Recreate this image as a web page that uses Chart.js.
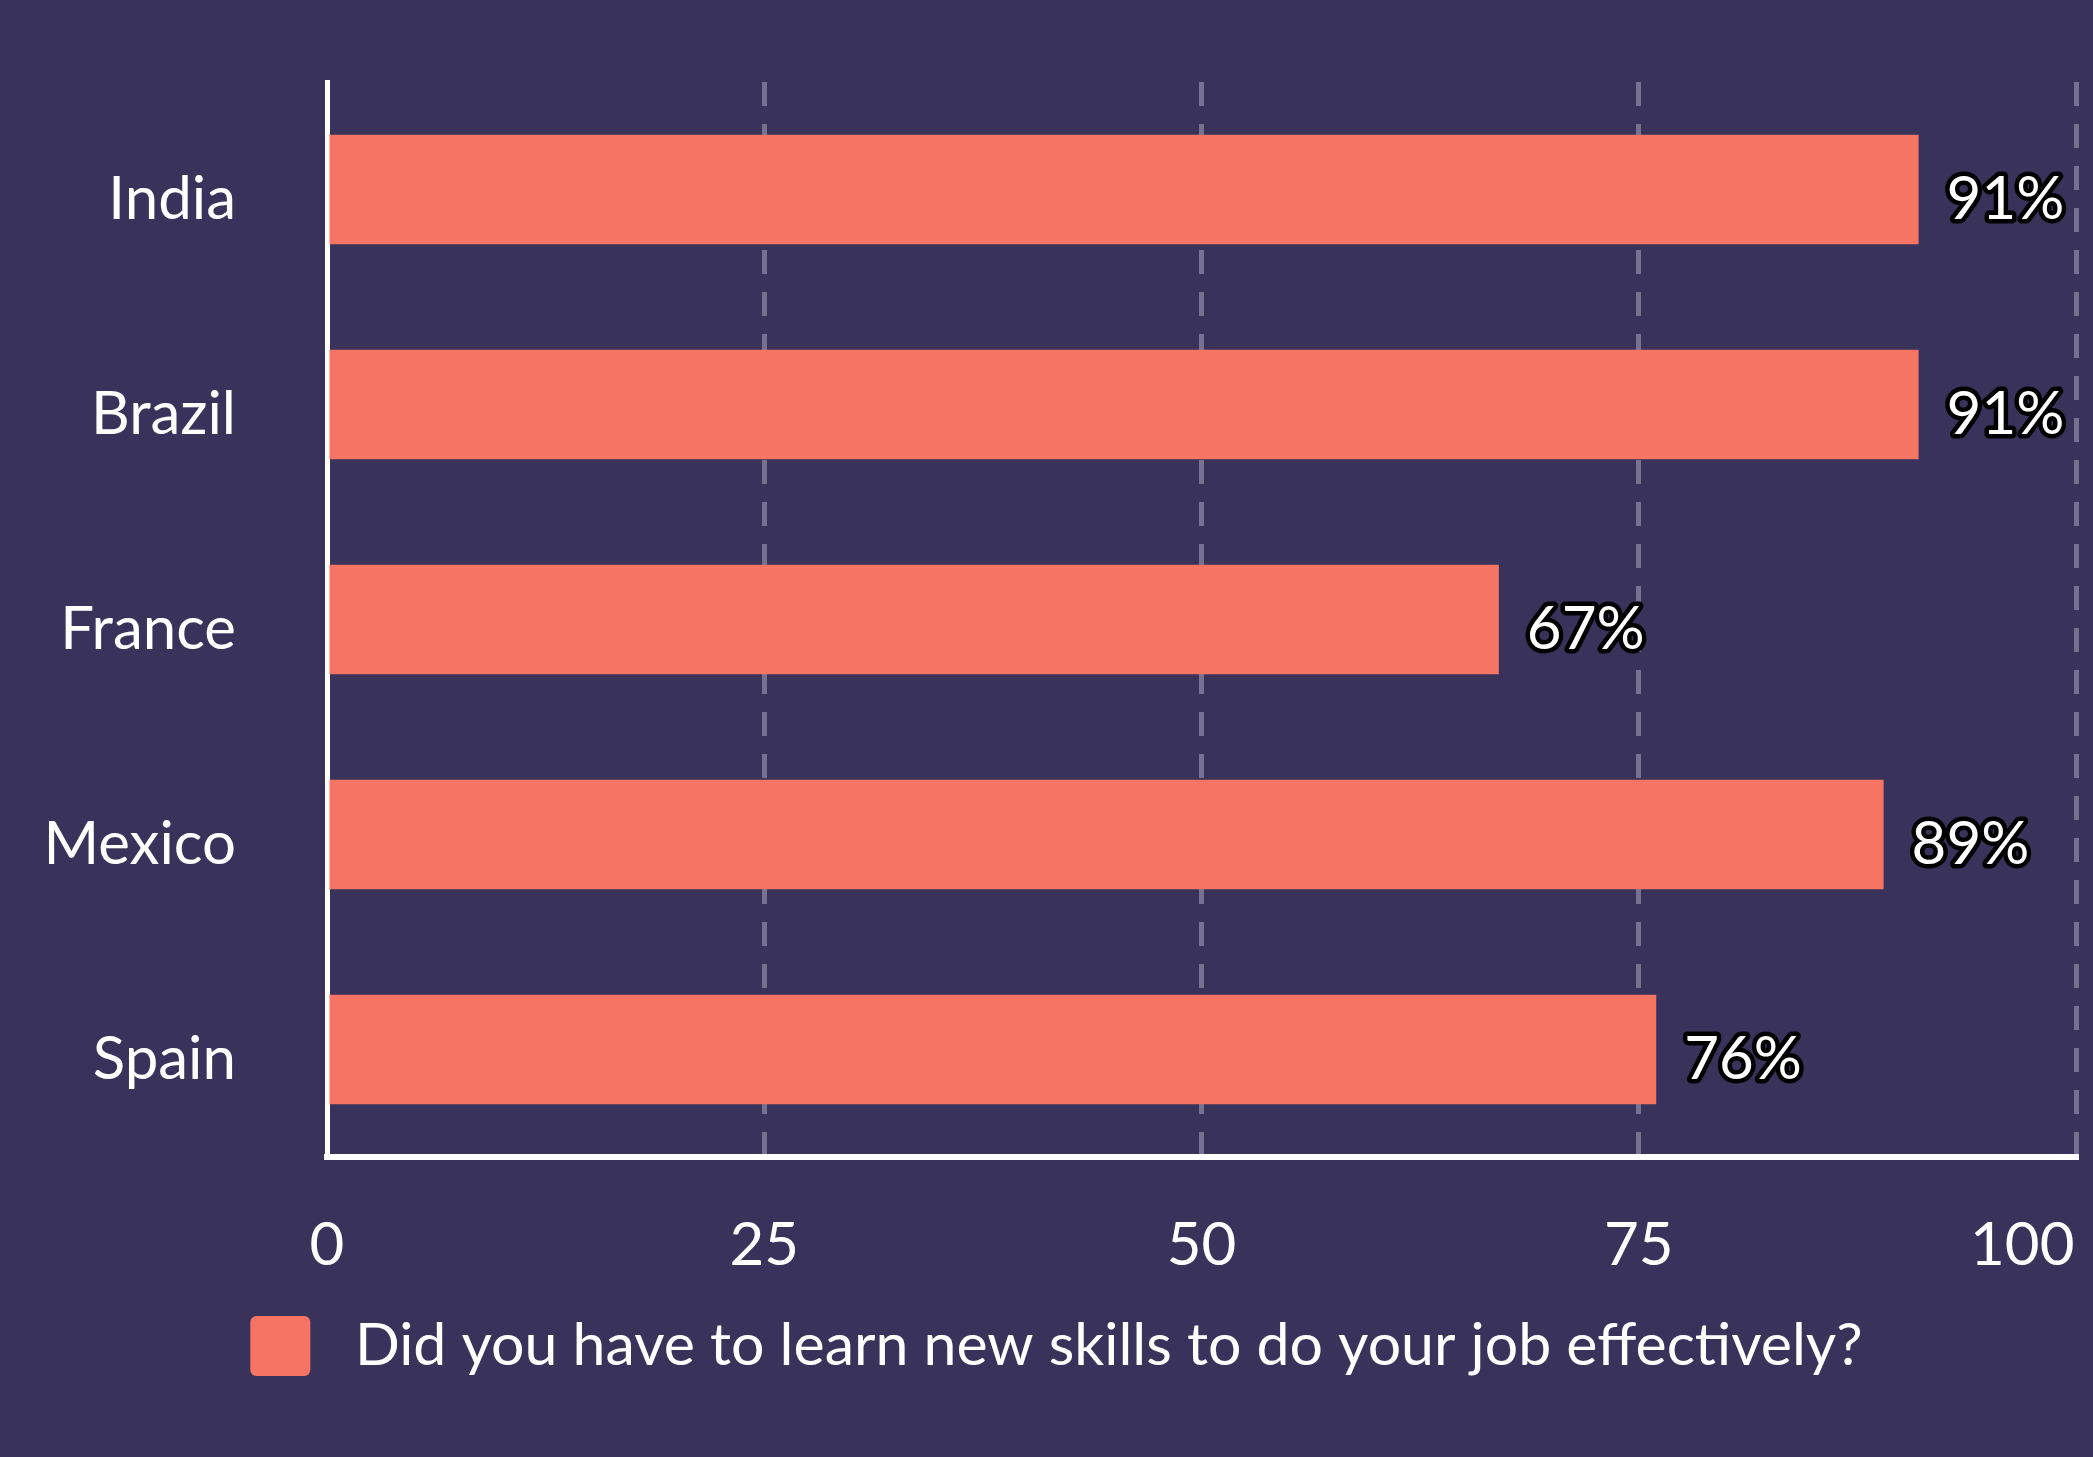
<!DOCTYPE html>
<html>
<head>
<meta charset="utf-8">
<title>Learning new skills</title>
<script src="https://cdn.jsdelivr.net/npm/chart.js@4/dist/chart.umd.min.js"></script>
<style>
  html, body { margin: 0; padding: 0; background: #39325a; }
  #wrap { width: 2093px; height: 1457px; position: relative; }
</style>
</head>
<body>
<div id="wrap"><canvas id="chart"></canvas></div>
<script>
const countries = ['India', 'Brazil', 'France', 'Mexico', 'Spain'];
const learnedNewSkills = [91, 91, 67, 89, 76];
const seriesLabel = 'Did you have to learn new skills to do your job effectively?';
const xTicks = [0, 25, 50, 75, 100];

const BAR = '#f67464';
const GRID = '#77718f';
const FONT = 'Lato';

// percentage labels at the end of each bar, white with a dark outline
const barValueLabels = {
  id: 'barValueLabels',
  afterDatasetsDraw(chart) {
    const ctx = chart.ctx;
    const meta = chart.getDatasetMeta(0);
    ctx.save();
    ctx.font = `60px ${FONT}`;
    ctx.textAlign = 'left';
    ctx.textBaseline = 'alphabetic';
    ctx.lineJoin = 'round';
    ctx.lineWidth = 9;
    ctx.strokeStyle = '#000';
    ctx.fillStyle = '#fff';
    meta.data.forEach((bar, i) => {
      const text = learnedNewSkills[i] + '%';
      const x = bar.x + 28;
      const y = bar.y + 29;
      ctx.strokeText(text, x, y);
      ctx.fillText(text, x, y);
    });
    ctx.restore();
  }
};

new Chart(document.getElementById('chart'), {
  type: 'bar',
  data: {
    labels: countries,
    datasets: [{
      label: seriesLabel,
      data: learnedNewSkills,
      backgroundColor: BAR,
      borderWidth: 0,
      categoryPercentage: 1,
      barPercentage: 0.51
    }]
  },
  options: {
    indexAxis: 'y',
    responsive: true,
    maintainAspectRatio: false,
    animation: false,
    layout: { padding: { top: 82, right: 17, bottom: 71, left: 37 } },
    plugins: {
      tooltip: { enabled: false },
      legend: {
        position: 'bottom',
        labels: {
          color: '#fff',
          font: { family: FONT, size: 59 },
          boxWidth: 60,
          boxHeight: 60,
          padding: 10,
          useBorderRadius: true,
          borderRadius: 6,
          generateLabels(chart) {
            const items = Chart.defaults.plugins.legend.labels.generateLabels(chart);
            items.forEach(item => { item.text = ' ' + item.text; });
            return items;
          }
        }
      }
    },
    scales: {
      x: {
        min: 0,
        max: 100,
        afterBuildTicks(scale) {
          scale.ticks = xTicks.map(v => ({ value: v }));
        },
        afterFit(scale) {
          scale.height = 149;
          scale.paddingLeft = 0;
          scale.paddingRight = 0;
        },
        grid: {
          drawTicks: false,
          lineWidth: 5,
          color: ctx => (ctx.tick && ctx.tick.value === 0 ? 'rgba(0,0,0,0)' : GRID)
        },
        border: { display: true, color: '#fff', width: 6, dash: [24, 18] },
        ticks: {
          color: '#fff',
          font: { family: FONT, size: 60 },
          padding: 53,
          maxRotation: 0,
          autoSkip: false,
          // the last label sits left of its tick so it stays on the canvas
          callback: v => (v === 100 ? '100' + ' '.repeat(7) : String(v))
        }
      },
      y: {
        z: 1,
        afterFit(scale) {
          scale.width = 290;
          scale.paddingTop = 0;
          scale.paddingBottom = 0;
        },
        grid: { display: false, drawTicks: false },
        border: { display: true, color: '#fff', width: 5 },
        ticks: {
          color: '#fff',
          font: { family: FONT, size: 60 },
          padding: 91,
          labelOffset: 10
        }
      }
    }
  },
  plugins: [barValueLabels]
});
</script>
</body>
</html>
